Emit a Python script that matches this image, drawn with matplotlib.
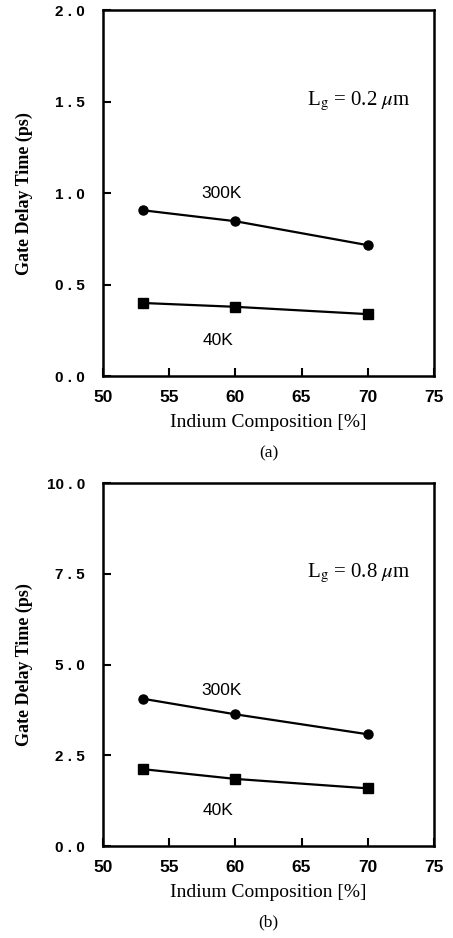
import matplotlib
matplotlib.use("Agg")
import matplotlib.pyplot as plt

plt.rcParams['mathtext.fontset'] = 'stix'

x_indium = [53, 60, 70]
a_300K = [0.907, 0.847, 0.716]
a_40K = [0.400, 0.379, 0.339]
b_300K = [4.06, 3.63, 3.08]
b_40K = [2.12, 1.85, 1.59]

x_ticks = [50, 55, 60, 65, 70, 75]
a_yticks = [0.0, 0.5, 1.0, 1.5, 2.0]
b_yticks = [0.0, 2.5, 5.0, 7.5, 10.0]

fig = plt.figure(figsize=(4.53, 9.38), dpi=100)

serif = ['Liberation Serif', 'DejaVu Serif']
sans = ['Liberation Sans', 'DejaVu Sans']

def panel(rect, y300, y40, yticks, ymax, lg_text, lab300_y, lab40_y, lg_y, tag):
    ax = fig.add_axes(rect)
    ax.plot(x_indium, y300, '-o', color='black', lw=1.6, ms=6.5)
    ax.plot(x_indium, y40, '-s', color='black', lw=1.6, ms=6.5)
    ax.set_xlim(50, 75)
    ax.set_ylim(0, ymax)
    ax.set_xticks(x_ticks)
    ax.set_yticks(yticks)
    ax.set_yticklabels([f"{v:.1f}".replace('.', ' . ') for v in yticks],
                       family=sans, fontweight='bold', fontsize=11)
    ax.set_xticklabels([str(v) for v in x_ticks], family=sans, fontweight='bold', fontsize=12.5)
    ax.tick_params(axis='both', direction='in', length=6, width=1.5, top=False, right=False)
    ax.tick_params(axis='x', pad=10)
    ax.tick_params(axis='y', pad=13)
    for s in ax.spines.values():
        s.set_linewidth(1.8)
    ax.set_xlabel('Indium Composition [%]', family=serif, fontsize=14)
    ax.xaxis.set_label_coords(0.5, -0.104)
    ax.set_ylabel('Gate Delay Time (ps)', family=serif, fontsize=13, fontweight='bold')
    ax.yaxis.set_label_coords(-0.21, 0.5)
    ax.text(59.0, lab300_y, '300K', family=sans, fontsize=12.5, ha='center', va='center')
    ax.text(58.7, lab40_y, '40K', family=sans, fontsize=12.5, ha='center', va='center')
    ax.text(65.4, lg_y, lg_text, family=serif, fontsize=15, ha='left', va='center')
    ax.text(0.5, -0.21, tag, transform=ax.transAxes, family=serif, fontsize=12.5,
            ha='center', va='center')
    return ax

panel([0.227, 0.599, 0.731, 0.390], a_300K, a_40K, a_yticks, 2.0,
      r'L$_\mathrm{g}$ = 0.2 $\mu$m', 1.0, 0.197, 1.5, '(a)')
panel([0.227, 0.098, 0.731, 0.387], b_300K, b_40K, b_yticks, 10.0,
      r'L$_\mathrm{g}$ = 0.8 $\mu$m', 4.29, 0.99, 7.5, '(b)')

fig.savefig('out.png', dpi=100)
